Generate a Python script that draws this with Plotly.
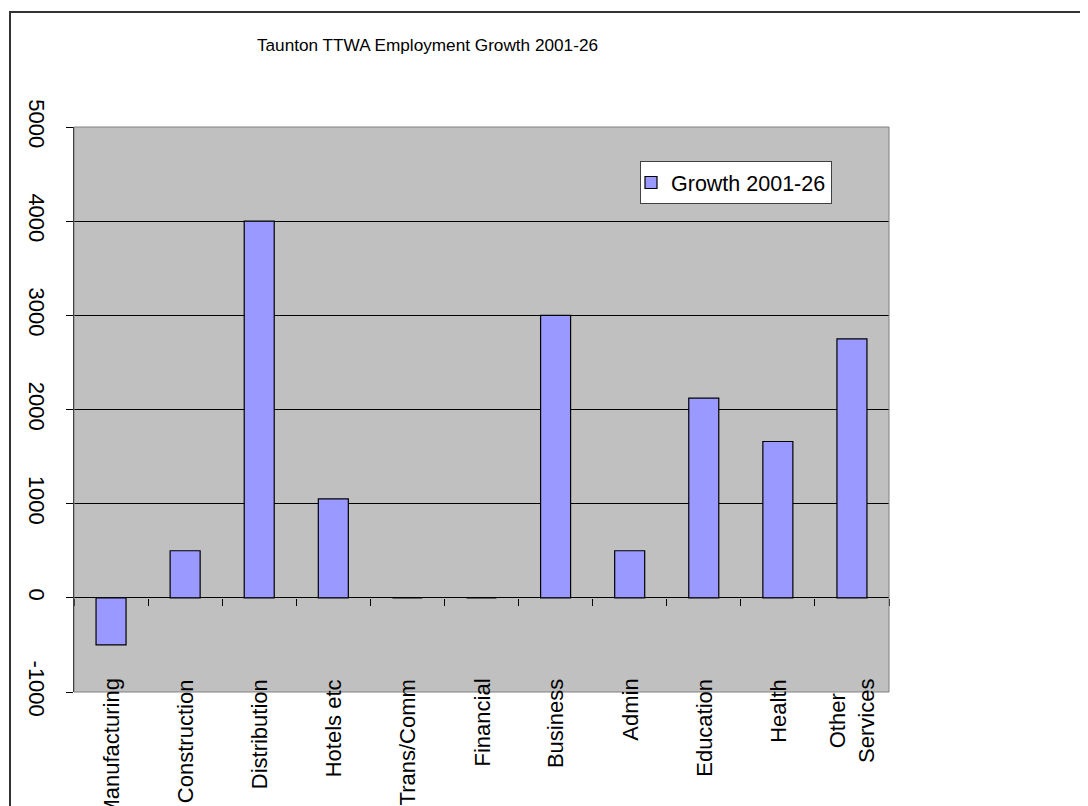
import plotly.graph_objects as go

categories = ["Manufacturing", "Construction", "Distribution", "Hotels etc", "Trans/Comm",
              "Financial", "Business", "Admin", "Education", "Health", "Other Services"]
label_text = ["Manufacturing", "Construction", "Distribution", "Hotels etc", "Trans/Comm",
              "Financial", "Business", "Admin", "Education", "Health", "Other<br>Services"]
growth = [-500, 500, 4000, 1050, 0, 0, 3000, 500, 2120, 1660, 2750]
y_ticks = [-1000, 0, 1000, 2000, 3000, 4000, 5000]
y_tick_text = ["-1000", "0", "1000", "2000", "3000", "4000", "5000"]

OFF = 8  # page body margin of the html output
W, H = 1088 - OFF, 806 - OFF
L, R, T, B = 74 - OFF, 889 - OFF, 127 - OFF, 692 - OFF
pw, ph = R - L, B - T

def px_x(x):
    return (x - OFF - L) / pw

def px_y(y):
    return (B - (y - OFF)) / ph

FONT = "Liberation Sans, Arial, sans-serif"

fig = go.Figure()
fig.add_trace(go.Bar(
    x=categories, y=growth, name="Growth 2001-26",
    marker=dict(color="#9999FF", line=dict(color="#000000", width=1.2)),
))

annotations = [
    dict(x=c, y=px_y(677), xref="x", yref="paper", text=t, textangle=-90,
         xanchor="center", yanchor="top", showarrow=False, align="center",
         font=dict(family=FONT, size=22, color="#000000"))
    for c, t in zip(categories, label_text)
]

shapes = [
    dict(type="rect", xref="paper", yref="paper", x0=0, x1=1, y0=0, y1=1,
         line=dict(color="#808080", width=1), layer="above"),
    dict(type="rect", xref="paper", yref="paper", x0=px_x(10), x1=px_x(1110),
         y0=px_y(840), y1=px_y(12), line=dict(color="#333333", width=2), layer="above"),
]

fig.update_layout(
    width=W, height=H,
    margin=dict(l=L, r=W - R, t=T, b=H - B, pad=0),
    paper_bgcolor="#FFFFFF", plot_bgcolor="#C0C0C0",
    font=dict(family=FONT, size=22, color="#000000"),
    title=dict(text="Taunton TTWA Employment Growth 2001-26", x=(427.5 - OFF) / W,
               y=1 - (45 - OFF) / H,
               xref="container", yref="container", xanchor="center", yanchor="middle",
               font=dict(family=FONT, size=17.2, color="#000000")),
    bargap=0.595,
    showlegend=True,
    legend=dict(x=px_x(640), y=px_y(161), xanchor="left", yanchor="top",
                bgcolor="#FFFFFF", bordercolor="#404040", borderwidth=1,
                indentation=-10, tracegroupgap=0,
                font=dict(family=FONT, size=21.5, color="#000000")),
    xaxis=dict(type="category", showticklabels=False, ticks="outside", tickson="boundaries",
               ticklen=7, tickcolor="#000000", tickwidth=1, showline=False, showgrid=False,
               anchor="free", position=px_y(598.3), zeroline=False),
    yaxis=dict(range=[-1000, 5000], tickvals=y_ticks, ticktext=y_tick_text,
               tickangle=90, ticks="outside", ticklen=7, tickcolor="#000000",
               ticklabelstandoff=11,
               showgrid=True, gridcolor="#000000", gridwidth=1,
               zeroline=True, zerolinecolor="#000000", zerolinewidth=1,
               showline=True, linecolor="#000000", linewidth=1,
               tickfont=dict(family=FONT, size=22, color="#000000")),
    annotations=annotations,
    shapes=shapes,
)

fig.write_html("out.html")
